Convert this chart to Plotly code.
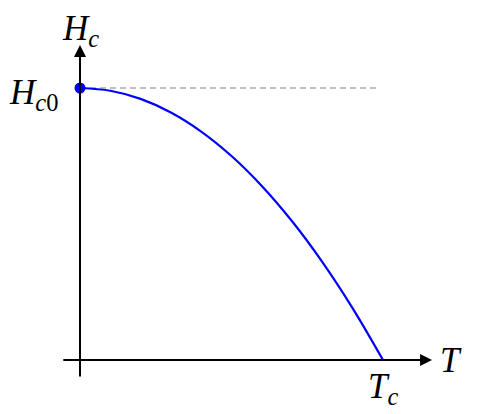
import plotly.graph_objects as go

# Critical field curve (T / Tc, Hc / Hc0)
t_vals = [0.0, 0.1, 0.2, 0.3, 0.4, 0.5, 0.6, 0.7, 0.8, 0.9, 1.0]
h_vals = [1.0, 0.99, 0.96, 0.91, 0.84, 0.75, 0.64, 0.51, 0.36, 0.19, 0.0]

# Labels
y_label = "<i>H</i><sub><i>c</i></sub>"
x_label = "<i>T</i>"
h0_label = "<i>H</i><sub><i>c</i>0</sub>"
tc_label = "<i>T</i><sub><i>c</i></sub>"

# page body has an 8px margin, so the figure is a bit smaller than the window
W, H = 469, 406
OFF = 8
X0, Y0, SX, SY = 80, 360, 303, 272  # origin and scale in window pixels
FONT = "Liberation Serif, Times New Roman, DejaVu Serif, serif"

fig = go.Figure()

# Dashed reference at Hc0
fig.add_trace(go.Scatter(x=[0, 0.983], y=[h_vals[0], h_vals[0]], mode="lines",
                         line=dict(color="#808080", width=1, dash="6px,4px"), hoverinfo="skip"))

# Curve
fig.add_trace(go.Scatter(x=t_vals, y=h_vals, mode="lines", line=dict(color="blue", width=2.2, shape="spline"),
                         hoverinfo="skip"))

# Dot at Hc0
fig.add_trace(go.Scatter(x=[t_vals[0]], y=[h_vals[0]], mode="markers",
                         marker=dict(color="blue", size=11), hoverinfo="skip"))

arrow = dict(showarrow=True, arrowhead=2, arrowsize=1.2, arrowwidth=2, arrowcolor="black",
             axref="x", ayref="y", xref="x", yref="y", text="", standoff=0)
lab = dict(showarrow=False, xanchor="center", yanchor="middle",
           font=dict(family=FONT, size=35, color="black"))

fig.update_layout(
    width=W, height=H,
    margin=dict(l=0, r=0, t=0, b=0),
    paper_bgcolor="white", plot_bgcolor="white",
    showlegend=False,
    xaxis=dict(range=[(OFF - X0) / SX, (OFF + W - X0) / SX], visible=False, fixedrange=True),
    yaxis=dict(range=[(Y0 - OFF - H) / SY, (Y0 - OFF) / SY], visible=False, fixedrange=True),
    annotations=[
        dict(x=1.162, y=0, ax=-0.06, ay=0, **arrow),
        dict(x=0, y=1.158, ax=0, ay=-0.066, **arrow),
        dict(x=0.0, y=(Y0 - OFF) / SY, text=y_label, showarrow=False, xanchor="center", yanchor="top",
             borderpad=0, font=dict(family=FONT, size=35, color="black")),
        dict(x=1.225, y=0.0, text=x_label, **lab),
        dict(x=-0.152, y=0.975, text=h0_label, **lab),
        dict(x=1.0, y=-0.105, text=tc_label, **lab),
    ],
)

fig.write_html("out.html")
